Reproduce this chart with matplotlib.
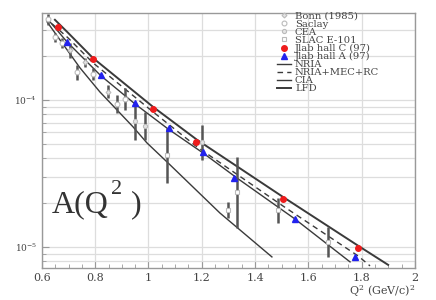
import numpy as np
import matplotlib
matplotlib.use("Agg")
import matplotlib.pyplot as plt
from matplotlib.ticker import FixedLocator, NullFormatter, FuncFormatter

# deuteron structure function A(Q^2)
jlabc_q2 = [0.660, 0.791, 1.017, 1.180, 1.505, 1.786]
jlabc_a = [3.14e-4, 1.90e-4, 8.7e-5, 5.2e-5, 2.12e-5, 9.8e-6]

jlaba_q2 = [0.694, 0.821, 0.949, 1.077, 1.205, 1.320, 1.550, 1.775]
jlaba_a = [2.48e-4, 1.48e-4, 9.5e-5, 6.45e-5, 4.43e-5, 2.94e-5, 1.55e-5, 8.55e-6]

# older data: error bar low / high ends
bonn_q2 = [0.705, 0.761, 0.848]
bonn_lo = [1.93e-4, 1.68e-4, 1.03e-4]
bonn_hi = [2.44e-4, 1.93e-4, 1.26e-4]

saclay_q2 = [0.623, 0.649, 0.675, 0.731, 0.791, 0.881, 0.911]
saclay_lo = [3.24e-4, 2.48e-4, 2.26e-4, 1.37e-4, 1.37e-4, 8.2e-5, 8.55e-5]
saclay_hi = [3.85e-4, 2.86e-4, 2.64e-4, 1.73e-4, 1.65e-4, 1.08e-4, 1.21e-4]

cea_q2 = [0.949, 0.987, 1.200]
cea_lo = [5.35e-5, 5.35e-5, 3.9e-5]
cea_hi = [9.5e-5, 8.3e-5, 6.76e-5]

slac_q2 = [1.069, 1.298, 1.332, 1.486, 1.673]
slac_lo = [2.72e-5, 1.57e-5, 1.35e-5, 1.46e-5, 8.55e-6]
slac_hi = [6.45e-5, 2.02e-5, 4.09e-5, 2.15e-5, 1.37e-5]

# theory curves
nria_q2 = [0.619, 0.743, 0.818, 0.942, 0.994, 1.073, 1.268, 1.463]
nria_a = [3.40e-4, 1.65e-4, 1.13e-4, 6.55e-5, 5.1e-5, 3.73e-5, 1.70e-5, 8.55e-6]

mec_q2 = [0.638, 0.698, 0.791, 1.017, 1.182, 1.504, 1.786, 1.831]
mec_a = [3.29e-4, 2.64e-4, 1.79e-4, 8.28e-5, 4.79e-5, 1.90e-5, 8.69e-6, 7.43e-6]

cia_q2 = [0.630, 0.694, 0.821, 0.949, 1.073, 1.204, 1.332, 1.549, 1.756]
cia_a = [3.40e-4, 2.48e-4, 1.46e-4, 9.39e-5, 6.35e-5, 4.36e-5, 2.94e-5, 1.55e-5, 7.91e-6]

lfd_q2 = [0.649, 0.698, 0.791, 1.017, 1.182, 1.504, 1.786, 1.899]
lfd_a = [3.50e-4, 2.86e-4, 1.93e-4, 8.96e-5, 5.35e-5, 2.19e-5, 1.02e-5, 7.55e-6]

plt.rcParams['font.family'] = ['DejaVu Serif']
plt.rcParams['mathtext.fontset'] = 'dejavuserif'

fig = plt.figure(figsize=(4.36, 3.0), dpi=100)
ax = fig.add_axes([0.096, 0.107, 0.856, 0.850])
ax.set_yscale('log')

lc = '#3a3a3a'
ax.plot(nria_q2, nria_a, color=lc, lw=1.0, label='NRIA')
ax.plot(mec_q2, mec_a, color=lc, lw=1.0, ls=(0, (4, 3)), label='NRIA+MEC+RC')
ax.plot(cia_q2, cia_a, color=lc, lw=1.0, label='CIA')
ax.plot(lfd_q2, lfd_a, color=lc, lw=1.4, label='LFD')

bc = '#555555'
for q2, lo, hi, mk, ms, fc, lab in [
        (bonn_q2, bonn_lo, bonn_hi, 'D', 2.5, '#e4e4e4', 'Bonn (1985)'),
        (saclay_q2, saclay_lo, saclay_hi, 'o', 3.5, 'white', 'Saclay'),
        (cea_q2, cea_lo, cea_hi, 'o', 3.0, '#e4e4e4', 'CEA'),
        (slac_q2, slac_lo, slac_hi, 's', 3.0, 'white', 'SLAC E-101')]:
    ax.vlines(q2, lo, hi, color=bc, lw=1.8, zorder=3)
    mid = np.sqrt(np.array(lo) * np.array(hi))
    ax.plot(q2, mid, ls='none', marker=mk, ms=ms, mfc=fc, mec='#bbbbbb', mew=0.8,
            zorder=4, label=lab)

ax.plot(jlabc_q2, jlabc_a, ls='none', marker='o', ms=4, color='#ee1c1c', mec='#ee1c1c',
        zorder=5, label='Jlab hall C (97)')
ax.plot(jlaba_q2, jlaba_a, ls='none', marker='^', ms=4, color='#2222ee', mec='#2222ee',
        zorder=5, label='Jlab hall A (97)')

ax.set_xlim(0.6, 2.0)
ax.set_ylim(7.2e-6, 3.9e-4)

ax.xaxis.set_major_locator(FixedLocator([0.6, 0.8, 1.0, 1.2, 1.4, 1.6, 1.8, 2.0]))
ax.xaxis.set_minor_locator(FixedLocator(np.arange(0.6, 2.001, 0.05)))
ax.xaxis.set_major_formatter(FuncFormatter(lambda v, p: '%g' % v))
ax.yaxis.set_major_locator(FixedLocator([1e-5, 1e-4]))
ax.yaxis.set_major_formatter(FuncFormatter(lambda v, p: r'$10^{%d}$' % round(np.log10(v))))
minors = [k * 10.0**e for e in (-6, -5, -4) for k in range(2, 10)]
ax.yaxis.set_minor_locator(FixedLocator(minors))
ax.yaxis.set_minor_formatter(NullFormatter())

ax.grid(True, which='major', color='#dddddd', lw=0.9)
ax.grid(True, which='minor', axis='y', color='#dddddd', lw=0.9)
ax.set_axisbelow(True)

for s in ax.spines.values():
    s.set_color('#999999')
    s.set_linewidth(1.0)
ax.tick_params(which='both', direction='in', colors='#999999', labelcolor='#444444')
ax.tick_params(which='major', length=5)
ax.tick_params(which='minor', length=3)
ax.tick_params(axis='x', labelsize=8, pad=4)
ax.tick_params(axis='y', labelsize=6.5)

ax.set_xlabel(r'Q$^2$ (GeV/c)$^2$', loc='right', fontsize=8, color='#444444', labelpad=0)

# big A(Q^2) label, pieces spaced like the original
big = dict(transform=ax.transAxes, color='#333333', va='baseline',
           family=['Liberation Serif', 'DejaVu Serif'])
ax.text(0.027, 0.22, 'A(Q', fontsize=23, **big)
ax.text(0.186, 0.29, '2', fontsize=16, **big)
ax.text(0.238, 0.22, ')', fontsize=23, **big)

handles, labels = ax.get_legend_handles_labels()
order = ['Bonn (1985)', 'Saclay', 'CEA', 'SLAC E-101', 'Jlab hall C (97)', 'Jlab hall A (97)',
         'NRIA', 'NRIA+MEC+RC', 'CIA', 'LFD']
hmap = dict(zip(labels, handles))
leg = ax.legend([hmap[k] for k in order], order, loc='upper left',
                bbox_to_anchor=(0.630, 1.004), frameon=False, fontsize=7.2,
                labelspacing=-0.1, handlelength=1.4, handletextpad=0.4,
                borderpad=0, borderaxespad=0)
for t in leg.get_texts():
    t.set_color('#444444')

fig.savefig('out.png', dpi=100)
